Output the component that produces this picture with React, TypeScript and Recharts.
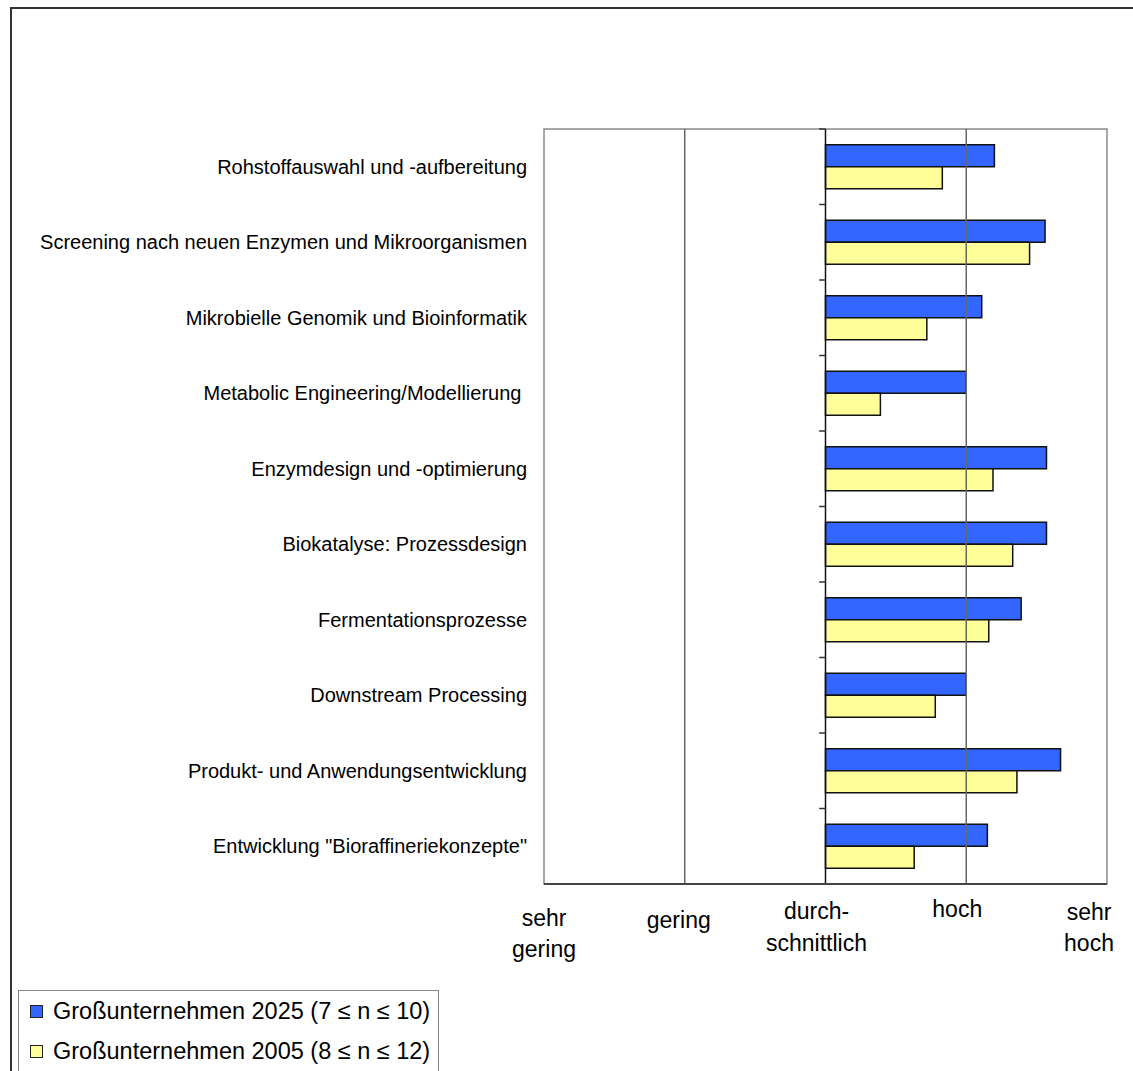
import React from 'react';
import { BarChart, Bar, XAxis, YAxis, ReferenceLine, ReferenceArea } from 'recharts';

// Technologiefelder, Einschätzung der Bedeutung (1 = sehr gering ... 5 = sehr hoch)
const categories = [
  'Rohstoffauswahl und -aufbereitung',
  'Screening nach neuen Enzymen und Mikroorganismen',
  'Mikrobielle Genomik und Bioinformatik',
  'Metabolic Engineering/Modellierung ',
  'Enzymdesign und -optimierung',
  'Biokatalyse: Prozessdesign',
  'Fermentationsprozesse',
  'Downstream Processing',
  'Produkt- und Anwendungsentwicklung',
  'Entwicklung "Bioraffineriekonzepte"',
];

const values2025 = [4.2, 4.56, 4.11, 4.0, 4.57, 4.57, 4.39, 4.0, 4.67, 4.15];
const values2005 = [3.83, 4.45, 3.72, 3.39, 4.19, 4.33, 4.16, 3.78, 4.36, 3.63];

const seriesNames = [
  'Großunternehmen 2025 (7 ≤ n ≤ 10)',
  'Großunternehmen 2005 (8 ≤ n ≤ 12)',
];
const seriesColors = ['#3366FF', '#FFFF99'];

const scaleTicks = [1, 2, 3, 4, 5];
const scaleLabels = [['sehr', 'gering'], ['gering'], ['durch-', 'schnittlich'], ['hoch'], ['sehr', 'hoch']];

// bars grow out of the middle of the scale ("durchschnittlich")
const BASE = 3;

const rows = categories.map((name, i) => ({
  name,
  r2025: [BASE, values2025[i]],
  r2005: [BASE, values2005[i]],
}));

const FONT = '"Liberation Sans", Arial, sans-serif';

// label placement under the axis: [dx, first baseline, second baseline]
const scaleLabelPos = [
  [0, 42, 73],
  [-6, 44, 0],
  [-9, 35, 67],
  [-9, 33, 0],
  [-18, 36, 67],
];

const ScaleTick = (props: any) => {
  const { x, y, payload } = props;
  const idx = scaleTicks.indexOf(payload.value);
  const lines = scaleLabels[idx] || [];
  const [dx, b1, b2] = scaleLabelPos[idx] || [0, 40, 70];
  return (
    <g>
      {lines.map((line, k) => (
        <text
          key={k}
          x={x + dx}
          y={y + (k === 0 ? b1 : b2)}
          textAnchor="middle"
          fontFamily={FONT}
          fontSize={23}
          fill="#000"
        >
          {line}
        </text>
      ))}
    </g>
  );
};

const CategoryTick = (props: any) => {
  const { x, y, payload } = props;
  return (
    <text
      x={x - 17}
      y={y}
      dy="0.35em"
      textAnchor="end"
      fontFamily={FONT}
      fontSize={20}
      fill="#000"
      style={{ whiteSpace: 'pre' }}
    >
      {payload.value}
    </text>
  );
};

const LegendBox = () => (
  <div
    style={{
      position: 'absolute',
      left: 18,
      top: 990,
      width: 421,
      height: 100,
      border: '1.5px solid #888',
      boxSizing: 'border-box',
      background: '#fff',
      fontFamily: FONT,
      fontSize: 23.5,
      color: '#000',
    }}
  >
    {seriesNames.map((name, i) => (
      <div key={name} style={{ position: 'absolute', left: 11, top: 6 + i * 40, display: 'flex', alignItems: 'center', whiteSpace: 'nowrap' }}>
        <span
          style={{
            display: 'inline-block',
            width: 13,
            height: 13,
            background: seriesColors[i],
            border: '1px solid #222',
            boxSizing: 'border-box',
            marginRight: 10,
          }}
        />
        <span style={{ lineHeight: '28px' }}>{name}</span>
      </div>
    ))}
  </div>
);

export default function App() {
  return (
    <div style={{ position: 'absolute', left: 0, top: 0, width: 1133, height: 1071, overflow: 'hidden', background: '#fff' }}>
      <div style={{ position: 'absolute', left: 10, top: 7, right: 0, bottom: 0, borderTop: '2px solid #333', borderLeft: '2px solid #333' }} />
      <div style={{ position: 'absolute', left: 0, top: 0 }}>
        <BarChart
          width={1133}
          height={1071}
          data={rows}
          layout="vertical"
          margin={{ top: 129, right: 26, bottom: 127, left: 0 }}
          barCategoryGap="21%"
          barGap={0}
        >
          <XAxis
            type="number"
            domain={[1, 5]}
            ticks={scaleTicks}
            height={60}
            tickSize={0}
            tickMargin={0}
            tickLine={false}
            axisLine={{ stroke: '#444', strokeWidth: 2 }}
            tick={<ScaleTick />}
            interval={0}
          />
          <YAxis
            type="category"
            dataKey="name"
            width={544}
            tickSize={0}
            tickMargin={0}
            tickLine={false}
            axisLine={false}
            tick={<CategoryTick />}
            interval={0}
          />
          <ReferenceArea x1={1} x2={5} fill="none" stroke="#8a8a8a" strokeWidth={1.5} ifOverflow="visible" />
          <ReferenceLine x={2} stroke="#666" strokeWidth={1.5} />
          <ReferenceLine x={4} stroke="#666" strokeWidth={1.5} />
          <Bar dataKey="r2025" name={seriesNames[0]} fill={seriesColors[0]} stroke="#111" strokeWidth={1.5} isAnimationActive={false} />
          <Bar dataKey="r2005" name={seriesNames[1]} fill={seriesColors[1]} stroke="#111" strokeWidth={1.5} isAnimationActive={false} />
          <ReferenceLine x={BASE} stroke="#111" strokeWidth={1.5} />
          {/* short tick marks at the category borders, on the axis at "durchschnittlich" */}
          {categories.map((cat) => (
            <ReferenceLine
              key={cat}
              position="start"
              segment={[{ x: BASE - 0.045, y: cat }, { x: BASE, y: cat }]}
              stroke="#333"
              strokeWidth={1.5}
            />
          ))}
          <ReferenceLine
            position="end"
            segment={[{ x: BASE - 0.045, y: categories[categories.length - 1] }, { x: BASE, y: categories[categories.length - 1] }]}
            stroke="#333"
            strokeWidth={1.5}
          />
        </BarChart>
      </div>
      <LegendBox />
    </div>
  );
}
